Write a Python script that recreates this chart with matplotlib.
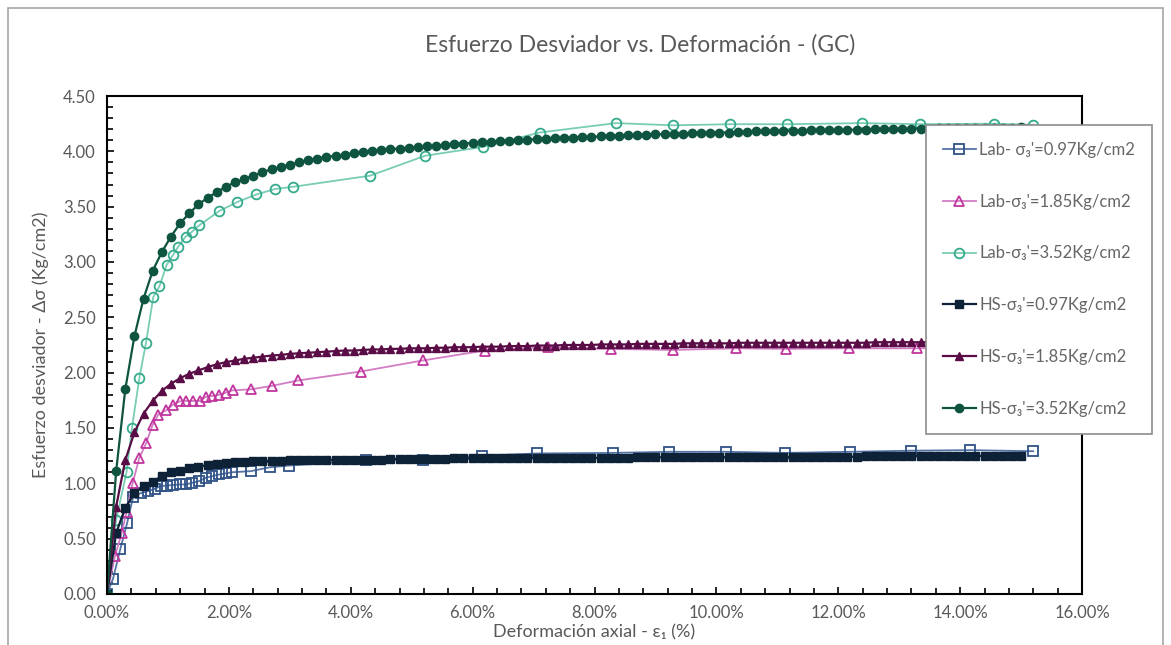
import matplotlib
matplotlib.use("Agg")
import matplotlib.pyplot as plt
from matplotlib.patches import Rectangle
from matplotlib.ticker import MultipleLocator, FuncFormatter

plt.rcParams['font.family'] = ['Lato', 'DejaVu Sans']

# Deformacion axial (%) - ensayos de laboratorio
lab_097_x = [0, 0.10, 0.22, 0.33, 0.43, 0.55, 0.67, 0.78, 0.88, 0.98, 1.09, 1.19, 1.29, 1.40,
             1.51, 1.62, 1.73, 1.84, 1.95, 2.05, 2.36, 2.67, 2.98, 4.25, 5.19, 6.15, 7.06,
             8.30, 9.23, 10.16, 11.13, 12.20, 13.20, 14.17, 15.20]
lab_097_y = [0, 0.14, 0.41, 0.64, 0.88, 0.91, 0.93, 0.95, 0.975, 0.98, 0.985, 0.99, 0.99, 1.005,
             1.02, 1.05, 1.065, 1.08, 1.09, 1.10, 1.11, 1.145, 1.16, 1.21, 1.215, 1.25, 1.27,
             1.275, 1.285, 1.285, 1.275, 1.285, 1.295, 1.30, 1.29]

lab_185_x = [0, 0.13, 0.24, 0.32, 0.42, 0.53, 0.64, 0.75, 0.84, 0.97, 1.08, 1.19, 1.30, 1.41,
             1.52, 1.62, 1.73, 1.84, 1.95, 2.06, 2.37, 2.70, 3.14, 4.16, 5.18, 6.20, 7.24,
             8.27, 9.28, 10.32, 11.14, 12.18, 13.30, 14.20, 15.20]
lab_185_y = [0, 0.34, 0.55, 0.74, 1.00, 1.23, 1.36, 1.53, 1.62, 1.66, 1.71, 1.74, 1.745, 1.745,
             1.745, 1.78, 1.79, 1.80, 1.82, 1.84, 1.85, 1.88, 1.93, 2.01, 2.11, 2.20, 2.23,
             2.215, 2.205, 2.22, 2.215, 2.22, 2.22, 2.23, 2.23]

lab_352_x = [0, 0.15, 0.32, 0.41, 0.53, 0.64, 0.76, 0.86, 0.98, 1.08, 1.17, 1.29, 1.40, 1.51,
             1.84, 2.13, 2.45, 2.76, 3.06, 4.32, 5.22, 6.17, 7.10, 8.35, 9.29, 10.22, 11.16,
             12.39, 13.34, 14.55, 15.20]
lab_352_y = [0, 0.67, 1.10, 1.50, 1.95, 2.27, 2.685, 2.78, 2.975, 3.06, 3.14, 3.23, 3.275, 3.33,
             3.46, 3.54, 3.61, 3.66, 3.68, 3.78, 3.96, 4.04, 4.17, 4.255, 4.235, 4.245, 4.245,
             4.255, 4.245, 4.25, 4.24]

# Deformacion axial (%) - modelo Hardening Soil
hs_x = [0.00, 0.15, 0.30, 0.45, 0.60, 0.75, 0.90, 1.05, 1.20, 1.35, 1.50, 1.65, 1.80, 1.95,
        2.10, 2.25, 2.40, 2.55, 2.70, 2.85, 3.00, 3.15, 3.30, 3.45, 3.60, 3.75, 3.90, 4.05,
        4.20, 4.35, 4.50, 4.65, 4.80, 4.95, 5.10, 5.25, 5.40, 5.55, 5.70, 5.85, 6.00, 6.15,
        6.30, 6.45, 6.60, 6.75, 6.90, 7.05, 7.20, 7.35, 7.50, 7.65, 7.80, 7.95, 8.10, 8.25,
        8.40, 8.55, 8.70, 8.85, 9.00, 9.15, 9.30, 9.45, 9.60, 9.75, 9.90, 10.05, 10.20, 10.35,
        10.50, 10.65, 10.80, 10.95, 11.10, 11.25, 11.40, 11.55, 11.70, 11.85, 12.00, 12.15,
        12.30, 12.45, 12.60, 12.75, 12.90, 13.05, 13.20, 13.35, 13.50, 13.65, 13.80, 13.95,
        14.10, 14.25, 14.40, 14.55, 14.70, 14.85, 15.00]
hs_097_y = [0, 0.55, 0.78, 0.91, 0.975, 1.015, 1.065, 1.10, 1.115, 1.135, 1.15, 1.165, 1.175, 1.185,
            1.19, 1.195, 1.20, 1.20, 1.205, 1.205, 1.21, 1.21, 1.21, 1.21, 1.21, 1.215, 1.215, 1.215,
            1.215, 1.215, 1.215, 1.22, 1.22, 1.22, 1.22, 1.22, 1.22, 1.22, 1.225, 1.225, 1.225, 1.225,
            1.225, 1.225, 1.225, 1.225, 1.225, 1.23, 1.23, 1.23, 1.23, 1.23, 1.23, 1.23, 1.23, 1.23,
            1.23, 1.23, 1.235, 1.235, 1.235, 1.235, 1.235, 1.235, 1.235, 1.235, 1.235, 1.235, 1.235, 1.235,
            1.24, 1.24, 1.24, 1.24, 1.24, 1.24, 1.24, 1.24, 1.24, 1.24, 1.24, 1.24,
            1.24, 1.245, 1.245, 1.245, 1.245, 1.245, 1.245, 1.245, 1.245, 1.245, 1.245, 1.245,
            1.245, 1.245, 1.25, 1.25, 1.25, 1.25, 1.25]
hs_185_y = [0, 0.79, 1.21, 1.46, 1.63, 1.745, 1.835, 1.90, 1.95, 1.99, 2.02, 2.05, 2.075, 2.095,
            2.11, 2.125, 2.135, 2.145, 2.155, 2.16, 2.17, 2.175, 2.18, 2.185, 2.19, 2.195, 2.20, 2.20,
            2.205, 2.21, 2.21, 2.215, 2.215, 2.22, 2.22, 2.22, 2.225, 2.225, 2.23, 2.23, 2.23, 2.235,
            2.235, 2.235, 2.24, 2.24, 2.24, 2.245, 2.245, 2.245, 2.25, 2.25, 2.25, 2.25, 2.255, 2.255,
            2.255, 2.255, 2.26, 2.26, 2.26, 2.26, 2.26, 2.265, 2.265, 2.265, 2.265, 2.265, 2.265, 2.27,
            2.27, 2.27, 2.27, 2.27, 2.27, 2.27, 2.27, 2.27, 2.27, 2.27, 2.27, 2.27,
            2.27, 2.27, 2.275, 2.275, 2.275, 2.275, 2.275, 2.275, 2.275, 2.275, 2.275, 2.275,
            2.275, 2.275, 2.275, 2.275, 2.275, 2.275, 2.275]
hs_352_y = [0, 1.11, 1.85, 2.33, 2.67, 2.92, 3.09, 3.23, 3.35, 3.44, 3.52, 3.58, 3.63, 3.68,
            3.72, 3.75, 3.78, 3.81, 3.84, 3.86, 3.88, 3.90, 3.92, 3.935, 3.95, 3.96, 3.97, 3.985,
            3.995, 4.00, 4.01, 4.02, 4.025, 4.03, 4.04, 4.045, 4.05, 4.06, 4.065, 4.07, 4.075, 4.08,
            4.085, 4.09, 4.095, 4.10, 4.105, 4.11, 4.115, 4.12, 4.12, 4.125, 4.13, 4.13, 4.135, 4.14,
            4.14, 4.145, 4.15, 4.15, 4.155, 4.155, 4.16, 4.16, 4.165, 4.165, 4.17, 4.17, 4.17, 4.175,
            4.175, 4.18, 4.18, 4.18, 4.185, 4.185, 4.185, 4.19, 4.19, 4.19, 4.19, 4.195,
            4.195, 4.195, 4.20, 4.20, 4.20, 4.20, 4.205, 4.205, 4.205, 4.21, 4.21, 4.21,
            4.21, 4.21, 4.215, 4.215, 4.215, 4.215, 4.22]

grey = '#595959'

fig = plt.figure(figsize=(11.71, 6.45), dpi=100)
ax = fig.add_axes([107 / 1171, 1 - 594 / 645, (1082 - 107) / 1171, (594 - 96) / 645])

# borde del area del grafico
fig.patches.append(Rectangle((8 / 1171, -0.05), 1155 / 1171, 1.05 - 8 / 645,
                             transform=fig.transFigure, fill=False,
                             edgecolor='#A6A6A6', lw=1.2, zorder=0))

ax.plot(lab_097_x, lab_097_y, color='#5574A6', lw=1.3, marker='s', ms=7,
        mfc='none', mec='#2F5287', mew=1.3, label="Lab- σ₃'=0.97Kg/cm2")
ax.plot(lab_185_x, lab_185_y, color='#D27CC4', lw=1.3, marker='^', ms=7,
        mfc='none', mec='#C0369E', mew=1.3, label="Lab-σ₃'=1.85Kg/cm2")
ax.plot(lab_352_x, lab_352_y, color='#79CDB5', lw=1.3, marker='o', ms=7,
        mfc='none', mec='#35AA8C', mew=1.3, label="Lab-σ₃'=3.52Kg/cm2")
ax.plot(hs_x, hs_097_y, color='#0D2137', lw=1.6, marker='s', ms=6,
        label="HS-σ₃'=0.97Kg/cm2")
ax.plot(hs_x, hs_185_y, color='#5A0C46', lw=1.6, marker='^', ms=6,
        label="HS-σ₃'=1.85Kg/cm2")
ax.plot(hs_x, hs_352_y, color='#0E5440', lw=1.6, marker='o', ms=6,
        label="HS-σ₃'=3.52Kg/cm2")

ax.set_xlim(0, 16)
ax.set_ylim(0, 4.5)
ax.xaxis.set_major_locator(MultipleLocator(2))
ax.xaxis.set_minor_locator(MultipleLocator(0.4))
ax.yaxis.set_major_locator(MultipleLocator(0.5))
ax.yaxis.set_minor_locator(MultipleLocator(0.1))
ax.xaxis.set_major_formatter(FuncFormatter(lambda v, p: f"{v:.2f}%"))
ax.yaxis.set_major_formatter(FuncFormatter(lambda v, p: f"{v:.2f}"))
ax.tick_params(which='both', direction='in', color='black', labelcolor=grey,
               labelsize=12, width=1.2)
ax.tick_params(which='major', length=5, pad=8)
ax.tick_params(which='minor', length=4)
for s in ax.spines.values():
    s.set_linewidth(1.5)
    s.set_color('black')

ax.set_xlabel("Deformación axial - ε₁ (%)", color=grey, fontsize=13, labelpad=2)
ax.set_ylabel("Esfuerzo desviador - Δσ (Kg/cm2)", color=grey, fontsize=13, labelpad=10)
fig.text(0.547, 1 - 45 / 645, "Esfuerzo Desviador vs. Deformación - (GC)",
         ha='center', va='center', color=grey, fontsize=16.5)

leg = ax.legend(loc='upper left', bbox_to_anchor=(926 / 1171, 1 - 125 / 645),
                bbox_transform=fig.transFigure, frameon=True, fancybox=False,
                framealpha=1, edgecolor='#8C8C8C', fontsize=12, labelspacing=2.15,
                handlelength=2.0, handletextpad=0.2, borderpad=1.0, borderaxespad=0)
leg.get_frame().set_linewidth(1.2)
for t in leg.get_texts():
    t.set_color('#666666')

fig.savefig("out.png", dpi=100)
